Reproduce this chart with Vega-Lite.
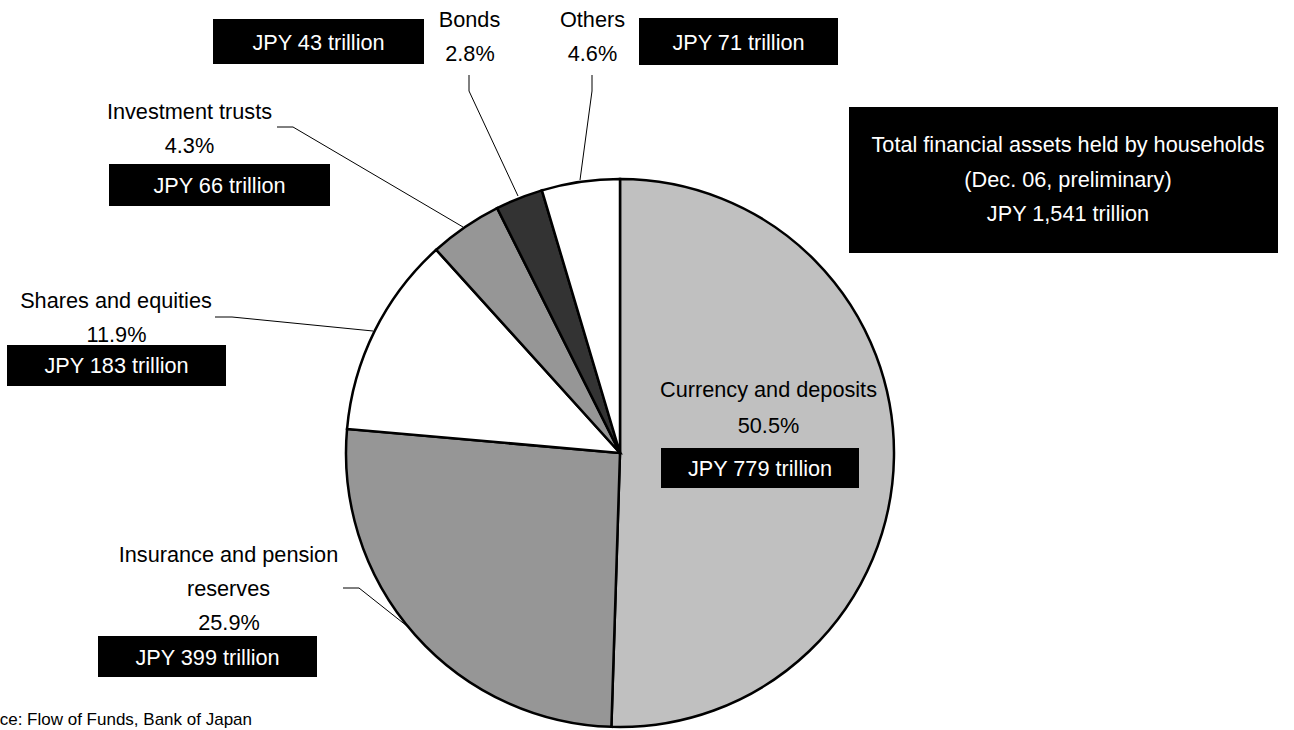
{
  "$schema": "https://vega.github.io/schema/vega-lite/v6.json",
  "width": 1294,
  "height": 730,
  "autosize": "none",
  "padding": 0,
  "background": "white",
  "config": {"view": {"stroke": null}, "font": "Liberation Sans"},
  "datasets": {
    "assets": [
      {"category": "Currency and deposits", "share": 0.505, "trillion": 779, "idx": 1},
      {"category": "Insurance and pension reserves", "share": 0.259, "trillion": 399, "idx": 2},
      {"category": "Shares and equities", "share": 0.119, "trillion": 183, "idx": 3},
      {"category": "Investment trusts", "share": 0.043, "trillion": 66, "idx": 4},
      {"category": "Bonds", "share": 0.028, "trillion": 43, "idx": 5},
      {"category": "Others", "share": 0.046, "trillion": 71, "idx": 6}
    ],
    "labels": [
      {"category": "Currency and deposits", "name": "Currency and deposits", "nx": 768.5, "ny": 397, "px": 768.5, "py": 433, "x1": 661, "y1": 448, "x2": 859, "y2": 488, "ax": 760, "ay": 476},
      {"category": "Insurance and pension reserves", "name": "Insurance and pension\nreserves", "nx": 228.5, "ny": 562, "px": 229, "py": 630, "x1": 98, "y1": 636, "x2": 317, "y2": 677, "ax": 207.5, "ay": 664.5},
      {"category": "Shares and equities", "name": "Shares and equities", "nx": 116, "ny": 308, "px": 116.5, "py": 342, "x1": 7, "y1": 345, "x2": 226, "y2": 386, "ax": 116.5, "ay": 373},
      {"category": "Investment trusts", "name": "Investment trusts", "nx": 189.5, "ny": 119, "px": 189.5, "py": 153, "x1": 109, "y1": 164, "x2": 330, "y2": 206, "ax": 219.5, "ay": 193},
      {"category": "Bonds", "name": "Bonds", "nx": 469.5, "ny": 27, "px": 470, "py": 61, "x1": 213, "y1": 19, "x2": 424, "y2": 64, "ax": 318.5, "ay": 49.5},
      {"category": "Others", "name": "Others", "nx": 592.5, "ny": 27, "px": 592.5, "py": 61, "x1": 639, "y1": 18, "x2": 838, "y2": 65, "ax": 738.5, "ay": 49.5}
    ],
    "leaders": [
      {"category": "Bonds", "x": 469, "y": 75, "x2": 469, "y2": 91},
      {"category": "Bonds", "x": 469, "y": 91, "x2": 518, "y2": 196},
      {"category": "Others", "x": 592, "y": 75, "x2": 592, "y2": 91},
      {"category": "Others", "x": 592, "y": 91, "x2": 580, "y2": 180},
      {"category": "Investment trusts", "x": 277, "y": 127, "x2": 293, "y2": 127},
      {"category": "Investment trusts", "x": 293, "y": 127, "x2": 463, "y2": 227},
      {"category": "Shares and equities", "x": 215, "y": 317, "x2": 232, "y2": 317},
      {"category": "Shares and equities", "x": 232, "y": 317, "x2": 373, "y2": 331},
      {"category": "Insurance and pension reserves", "x": 343, "y": 588, "x2": 359, "y2": 588},
      {"category": "Insurance and pension reserves", "x": 359, "y": 588, "x2": 412, "y2": 630}
    ],
    "total": [
      {"text": "Total financial assets held by households\n(Dec. 06, preliminary)\nJPY 1,541 trillion", "x1": 849, "y1": 107, "x2": 1278, "y2": 253, "tx": 1068, "ty": 152}
    ],
    "source": [
      {"text": "Source: Flow of Funds, Bank of Japan", "x": 252, "y": 725}
    ]
  },
  "layer": [
    {
      "data": {"name": "assets"},
      "mark": {"type": "arc", "outerRadius": 274, "stroke": "black", "strokeWidth": 2.5},
      "encoding": {
        "theta": {"field": "share", "type": "quantitative", "stack": true},
        "order": {"field": "idx", "type": "quantitative"},
        "color": {
          "field": "category",
          "type": "nominal",
          "scale": {
            "domain": ["Currency and deposits", "Insurance and pension reserves", "Shares and equities", "Investment trusts", "Bonds", "Others"],
            "range": ["#c0c0c0", "#969696", "#ffffff", "#969696", "#333333", "#ffffff"]
          },
          "legend": null
        },
        "x": {"datum": 620, "type": "quantitative", "scale": {"domain": [0, 1294], "nice": false, "zero": false}, "axis": null},
        "y": {"datum": 453, "type": "quantitative", "scale": {"domain": [0, 730], "nice": false, "zero": false, "reverse": true}, "axis": null}
      }
    },
    {
      "data": {"name": "leaders"},
      "mark": {"type": "rule", "color": "black", "strokeWidth": 1},
      "encoding": {
        "x": {"field": "x", "type": "quantitative"},
        "y": {"field": "y", "type": "quantitative"},
        "x2": {"field": "x2"},
        "y2": {"field": "y2"}
      }
    },
    {
      "data": {"name": "labels"},
      "mark": {"type": "rect", "color": "black"},
      "encoding": {
        "x": {"field": "x1", "type": "quantitative"},
        "y": {"field": "y1", "type": "quantitative"},
        "x2": {"field": "x2"},
        "y2": {"field": "y2"}
      }
    },
    {
      "data": {"name": "labels"},
      "mark": {"type": "text", "font": "Liberation Sans", "fontSize": 21.7, "color": "black", "align": "center", "baseline": "alphabetic", "lineBreak": "\n", "lineHeight": 34},
      "encoding": {
        "x": {"field": "nx", "type": "quantitative"},
        "y": {"field": "ny", "type": "quantitative"},
        "text": {"field": "name"}
      }
    },
    {
      "data": {"name": "labels"},
      "transform": [
        {"lookup": "category", "from": {"data": {"name": "assets"}, "key": "category", "fields": ["share", "trillion"]}}
      ],
      "mark": {"type": "text", "font": "Liberation Sans", "fontSize": 21.7, "color": "black", "align": "center", "baseline": "alphabetic"},
      "encoding": {
        "x": {"field": "px", "type": "quantitative"},
        "y": {"field": "py", "type": "quantitative"},
        "text": {"field": "share", "type": "quantitative", "format": ".1%"}
      }
    },
    {
      "data": {"name": "labels"},
      "transform": [
        {"lookup": "category", "from": {"data": {"name": "assets"}, "key": "category", "fields": ["share", "trillion"]}},
        {"calculate": "'JPY ' + format(datum.trillion, ',') + ' trillion'", "as": "amount"}
      ],
      "mark": {"type": "text", "font": "Liberation Sans", "fontSize": 21.7, "color": "white", "align": "center", "baseline": "alphabetic"},
      "encoding": {
        "x": {"field": "ax", "type": "quantitative"},
        "y": {"field": "ay", "type": "quantitative"},
        "text": {"field": "amount"}
      }
    },
    {
      "data": {"name": "total"},
      "mark": {"type": "rect", "color": "black"},
      "encoding": {
        "x": {"field": "x1", "type": "quantitative"},
        "y": {"field": "y1", "type": "quantitative"},
        "x2": {"field": "x2"},
        "y2": {"field": "y2"}
      }
    },
    {
      "data": {"name": "total"},
      "mark": {"type": "text", "font": "Liberation Sans", "fontSize": 21.7, "color": "white", "align": "center", "baseline": "alphabetic", "lineBreak": "\n", "lineHeight": 34.5},
      "encoding": {
        "x": {"field": "tx", "type": "quantitative"},
        "y": {"field": "ty", "type": "quantitative"},
        "text": {"field": "text"}
      }
    },
    {
      "data": {"name": "source"},
      "mark": {"type": "text", "font": "Liberation Sans", "fontSize": 17, "color": "black", "align": "right", "baseline": "alphabetic"},
      "encoding": {
        "x": {"field": "x", "type": "quantitative"},
        "y": {"field": "y", "type": "quantitative"},
        "text": {"field": "text"}
      }
    }
  ]
}
